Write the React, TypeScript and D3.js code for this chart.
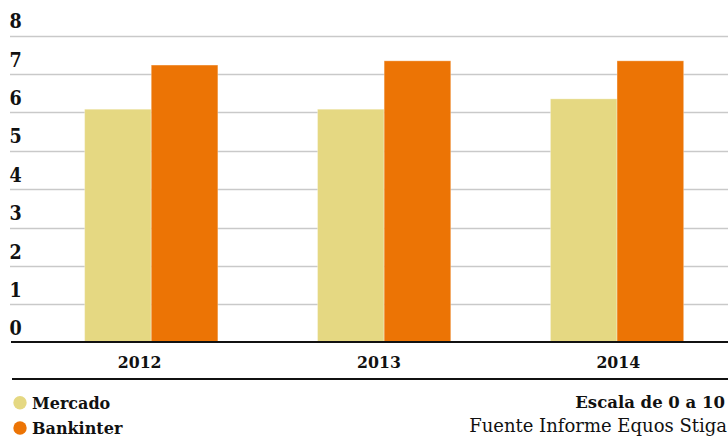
import React from "react";
import * as d3 from "d3";

const years = ["2012", "2013", "2014"];
const seriesNames = ["Mercado", "Bankinter"];
const mercado = [6.08, 6.08, 6.35];
const bankinter = [7.23, 7.34, 7.34];
const yTicks = [0, 1, 2, 3, 4, 5, 6, 7, 8];
const colors = ["#e5d882", "#ec7405"];
const note = "Escala de 0 a 10";
const source = "Fuente Informe Equos Stiga";

const W = 728;
const H = 437;
const COND = "'DejaVu Serif Condensed', 'DejaVu Serif', serif";
const SERIF = "'DejaVu Serif', serif";

export default function App() {
  const x0 = d3.scaleBand<string>().domain(years).range([34.8, 733.5]).paddingInner(0.428).paddingOuter(0.214);
  const x1 = d3.scaleBand<string>().domain(seriesNames).range([0, x0.bandwidth()]);
  const xLabel = d3.scaleBand<string>().domain(years).range([20, 738]);
  const y = d3.scaleLinear().domain([0, 8]).range([342.7, 35.5]);
  const values = [mercado, bankinter];

  return (
    <svg width={W} height={H} style={{ position: "absolute", left: 0, top: 0, background: "#fff" }} fontFamily={SERIF}>
      {yTicks.filter((t) => t > 0).map((t) => (
        <line key={"g" + t} x1={10} x2={W} y1={Math.round(y(t)) + 0.5} y2={Math.round(y(t)) + 0.5} stroke="#c9c9c9" strokeWidth={1.3} />
      ))}
      {yTicks.map((t) => (
        <text key={"t" + t} x={9.5} y={y(t) - 7.3} fontFamily={COND} fontSize={19.5} fontWeight="bold" fill="#111">
          {t}
        </text>
      ))}
      {years.map((yr, i) => (
        <g key={yr} transform={`translate(${x0(yr)},0)`}>
          {seriesNames.map((s, j) => (
            <rect
              key={s}
              x={x1(s)}
              y={y(values[j][i])}
              width={x1.bandwidth()}
              height={y(0) - y(values[j][i])}
              fill={colors[j]}
              stroke="rgba(255,255,255,0.3)"
              strokeWidth={1}
            />
          ))}
        </g>
      ))}
      <line x1={11} x2={W} y1={342} y2={342} stroke="#111" strokeWidth={2.2} />
      {years.map((yr) => (
        <text key={"x" + yr} x={(xLabel(yr) as number) + xLabel.bandwidth() / 2} y={368} textAnchor="middle" fontFamily={COND} fontSize={17.5} fontWeight="bold" fill="#111">
          {yr}
        </text>
      ))}
      <line x1={12} x2={W} y1={379} y2={379} stroke="#111" strokeWidth={2.2} />
      {seriesNames.map((s, j) => (
        <g key={"l" + s}>
          <circle cx={20} cy={402.7 + j * 25.3} r={6.7} fill={colors[j]} />
          <text x={32} y={408.5 + j * 25.3} fontSize={16} fontWeight="bold" fill="#111">
            {s}
          </text>
        </g>
      ))}
      <text x={725} y={407.5} textAnchor="end" fontSize={16.5} fontWeight="bold" fill="#111">
        {note}
      </text>
      <text x={727} y={431.5} textAnchor="end" fontSize={18} fill="#111">
        {source}
      </text>
    </svg>
  );
}
